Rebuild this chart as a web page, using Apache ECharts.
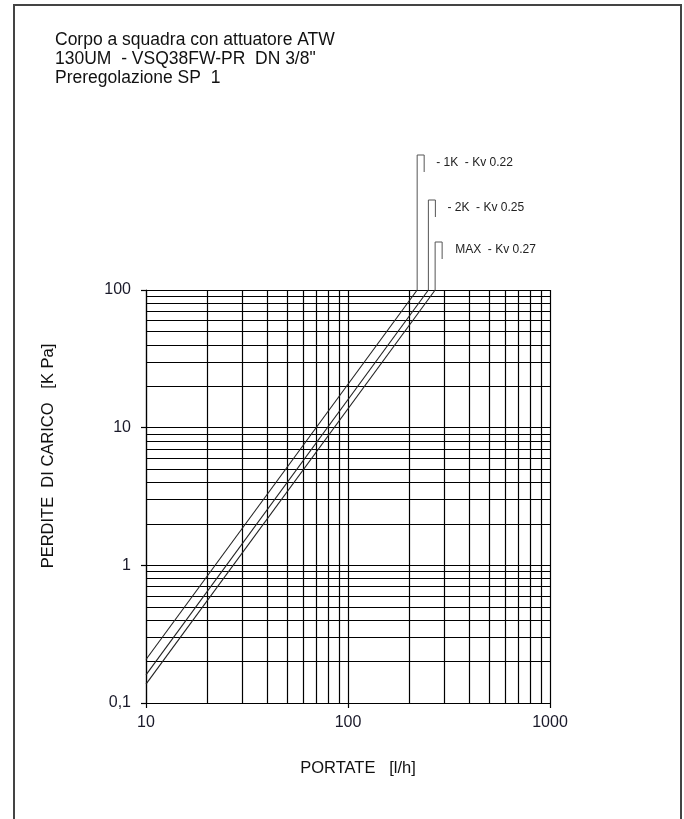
<!DOCTYPE html>
<html><head><meta charset="utf-8">
<script src="https://cdn.jsdelivr.net/npm/echarts@6/dist/echarts.min.js"></script>
<style>html,body{margin:0;padding:0;background:#fff}#c{width:684px;height:819px}</style>
</head><body><div id="c"></div>
<script>
// ---- data ----
const titleLines = ['Corpo a squadra con attuatore ATW', '130UM  - VSQ38FW-PR  DN 3/8"', 'Preregolazione SP  1'];
const xName = 'PORTATE   [l/h]';
const yName = 'PERDITE  DI CARICO   [K Pa]';
const xMin = 10, xMax = 1000;
const yMin = 0.1, yMax = 100;
const xGridValues = [10,20,30,40,50,60,70,80,90,100,200,300,400,500,600,700,800,900,1000];
const yGridValues = [0.1,0.2,0.3,0.4,0.5,0.6,0.7,0.8,0.9,1,2,3,4,5,6,7,8,9,10,20,30,40,50,60,70,80,90,100];
const curveNames = ['- 1K  - Kv 0.22', '- 2K  - Kv 0.25', 'MAX  - Kv 0.27'];
const curve1K = [[10, 0.207], [220, 100]];
const curve2K = [[10, 0.16], [250, 100]];
const curveMAX = [[10, 0.137], [270, 100]];
const curves = [curve1K, curve2K, curveMAX];

// ---- chart ----
const chart = echarts.init(document.getElementById('c'), null, {renderer: 'canvas'});
const FONT = '"Liberation Sans", Arial, sans-serif';
const GRID = {left: 146, top: 290, width: 404, height: 413};

const series = curves.map((d, i) => ({
  name: curveNames[i], type: 'line', data: d, showSymbol: false, symbol: 'none',
  lineStyle: {color: '#222', width: 1.1}, silent: true, z: 5
}));
series.push({
  type: 'line', data: [], silent: true, z: 3,
  markLine: {
    silent: true, symbol: ['none', 'none'], animation: false,
    label: {show: false},
    lineStyle: {color: '#000', width: 1.2, type: 'solid'},
    emphasis: {disabled: true},
    data: xGridValues.map(v => ({xAxis: v})).concat(yGridValues.map(v => ({yAxis: v})))
  }
});

chart.setOption({
  animation: false,
  backgroundColor: '#fff',
  title: {
    text: titleLines.join('\n'), left: 55, top: 31, padding: 0,
    textStyle: {fontFamily: FONT, fontSize: 17.5, fontWeight: 'normal', color: '#111', lineHeight: 19}
  },
  grid: GRID,
  xAxis: {
    type: 'log', logBase: 10, min: xMin, max: xMax,
    axisLine: {show: true, lineStyle: {color: '#000', width: 1.2}},
    axisTick: {show: true, length: 5, inside: false, lineStyle: {color: '#000', width: 1.2}},
    axisLabel: {fontFamily: FONT, fontSize: 16, color: '#1a1a2a', margin: 12,
      formatter: v => String(v)},
    splitLine: {show: false}, minorTick: {show: false}
  },
  yAxis: {
    type: 'log', logBase: 10, min: yMin, max: yMax,
    axisLine: {show: true, lineStyle: {color: '#000', width: 1.2}},
    axisTick: {show: true, length: 5, inside: false, lineStyle: {color: '#000', width: 1.2}},
    axisLabel: {fontFamily: FONT, fontSize: 16, color: '#1a1a2a', margin: 15,
      formatter: v => String(v).replace('.', ',')},
    splitLine: {show: false}, minorTick: {show: false}
  },
  series: series
});

// annotations derived from the curve end points
const leaderTop = [135, 90, 48];
const graphics = [];
curves.forEach((d, i) => {
  const end = d[d.length - 1];
  const p = chart.convertToPixel({gridIndex: 0}, end);
  const x = p[0], y = p[1];
  const top = y - leaderTop[i];
  graphics.push({
    type: 'polyline', silent: true, z: 10,
    shape: {points: [[x, y], [x, top], [x + 7, top], [x + 7, top + 17]]},
    style: {stroke: '#555', lineWidth: 1, fill: null}
  });
  graphics.push({
    type: 'text', silent: true, z: 10, x: x + (i === 2 ? 20 : 19), y: top + 8,
    style: {text: curveNames[i], fontFamily: FONT, fontSize: 12, fill: '#222', verticalAlign: 'middle'}
  });
});
const gridCenterX = GRID.left + GRID.width / 2;
graphics.push({
  type: 'text', silent: true, x: gridCenterX + 10, y: 768,
  style: {text: xName, fontFamily: FONT, fontSize: 16.5, fill: '#111', align: 'center', verticalAlign: 'middle'}
});
graphics.push({
  type: 'text', silent: true, x: 48, y: 456, rotation: Math.PI / 2,
  style: {text: yName, fontFamily: FONT, fontSize: 16.5, fill: '#111', align: 'center', verticalAlign: 'middle'}
});
graphics.push({
  type: 'rect', silent: true, z: 0,
  shape: {x: 14, y: 5, width: 667, height: 900},
  style: {stroke: '#444', lineWidth: 2, fill: null}
});
chart.setOption({graphic: graphics});
</script>
</body></html>
